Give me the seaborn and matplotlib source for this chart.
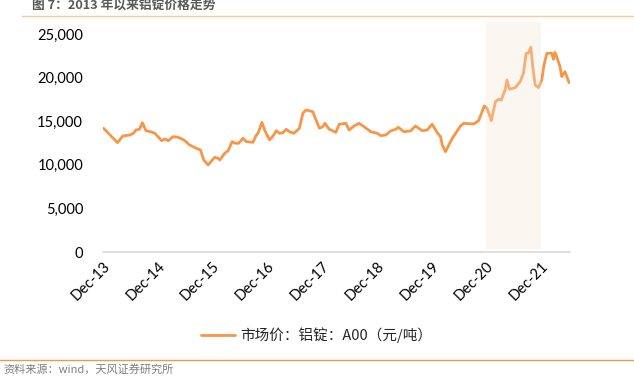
import matplotlib
matplotlib.use("Agg")
import matplotlib.pyplot as plt
import matplotlib.ticker as mticker
from matplotlib.lines import Line2D
import seaborn as sns
import pandas as pd

# ---------------- data ----------------
dates = [
    "2013-12-05", "2014-03-08", "2014-04-12", "2014-05-30", "2014-06-22", "2014-07-09",
    "2014-08-01", "2014-08-21", "2014-09-14", "2014-10-22", "2014-11-13", "2014-12-27",
    "2015-01-19", "2015-02-10", "2015-03-14", "2015-04-17", "2015-05-24", "2015-07-02",
    "2015-08-16", "2015-09-12", "2015-10-04", "2015-11-02", "2015-12-16", "2016-01-08",
    "2016-01-19", "2016-02-21", "2016-03-15", "2016-04-10", "2016-05-02", "2016-05-24",
    "2016-06-22", "2016-07-14", "2016-08-27", "2016-09-19", "2016-09-30", "2016-10-26",
    "2016-11-13", "2016-12-16", "2017-01-08", "2017-01-30", "2017-02-21", "2017-03-15",
    "2017-04-06", "2017-04-28", "2017-05-27", "2017-07-03", "2017-07-26", "2017-08-16",
    "2017-09-30", "2017-10-22", "2017-11-13", "2017-12-05", "2017-12-20", "2018-01-18",
    "2018-01-30", "2018-03-03", "2018-03-25", "2018-05-09", "2018-05-30", "2018-07-03",
    "2018-08-05", "2018-09-07", "2018-10-22", "2018-12-05", "2018-12-27", "2019-01-30",
    "2019-03-03", "2019-04-06", "2019-04-24", "2019-05-30", "2019-07-14", "2019-08-16",
    "2019-09-30", "2019-11-02", "2019-12-05", "2020-01-08", "2020-01-30", "2020-02-10",
    "2020-03-03", "2020-04-17", "2020-06-11", "2020-07-03", "2020-09-07", "2020-10-10",
    "2020-11-17", "2020-12-05", "2021-01-03", "2021-01-30", "2021-02-21", "2021-03-10",
    "2021-04-06", "2021-04-17", "2021-05-04", "2021-06-11", "2021-07-14", "2021-08-05",
    "2021-08-23", "2021-09-07", "2021-09-23", "2021-10-06", "2021-10-22", "2021-11-13",
    "2021-12-05", "2021-12-20", "2022-01-08", "2022-02-10", "2022-02-21", "2022-03-03",
    "2022-03-18", "2022-04-06", "2022-04-17", "2022-05-09", "2022-06-05",
]
prices = [
    14190, 12540, 13300, 13420, 13610, 14000,
    14070, 14830, 13910, 13760, 13610, 12770,
    12960, 12770, 13230, 13150, 12850, 12270,
    11890, 11700, 10550, 9980, 10860, 10750,
    10550, 11320, 11620, 12650, 12470, 12470,
    13040, 12650, 12580, 13420, 13610, 14870,
    13990, 12850, 13300, 13910, 13610, 13680,
    14070, 13800, 13610, 14190, 15910, 16290,
    16090, 15140, 14190, 14370, 14760, 14070,
    13990, 13720, 14650, 14760, 13990, 14450,
    14760, 14370, 13800, 13610, 13340, 13420,
    13880, 14070, 14300, 13800, 13880, 14450,
    13910, 13990, 14650, 13680, 13230, 12300,
    11500, 13040, 14450, 14760, 14680, 15060,
    16750, 16480, 15060, 17240, 17510, 17430,
    18660, 19730, 18660, 18850, 19530, 20500,
    22790, 22790, 23480, 21250, 19150, 18850,
    19730, 21450, 22790, 22790, 22100, 22900,
    22220, 21250, 20110, 20680, 19420,
]
tick_dates = ["2013-12-01", "2014-12-01", "2015-12-01", "2016-12-01", "2017-12-01",
              "2018-12-01", "2019-12-01", "2020-12-01", "2021-12-01"]
tick_labels = ["Dec-13", "Dec-14", "Dec-15", "Dec-16", "Dec-17",
               "Dec-18", "Dec-19", "Dec-20", "Dec-21"]
y_ticks = [0, 5000, 10000, 15000, 20000, 25000]
shade_start, shade_end = "2020-12-01", "2021-12-01"

title = "图 7：2013 年以来铝锭价格走势"
series_name = "市场价：铝锭：A00（元/吨）"
source = "资料来源：wind，天风证券研究所"

# ---------------- style ----------------
sns.set_theme(style="white")
plt.rcParams["font.family"] = ["Lato", "Noto Sans CJK SC", "DejaVu Sans"]
cjk = ["Noto Sans CJK SC", "DejaVu Sans"]
ORANGE = "#F79646"

W, H = 634, 387
fig = plt.figure(figsize=(W / 100, H / 100), dpi=100)
left_px, right_px, top_px, bot_px = 102.5, 569.5, 34, 252
ax = fig.add_axes([left_px / W, 1 - bot_px / H, (right_px - left_px) / W, (bot_px - top_px) / H])

df = pd.DataFrame({"date": pd.to_datetime(dates), "price": prices})
sns.lineplot(data=df, x="date", y="price", ax=ax, color=ORANGE, linewidth=2.0, zorder=3)

ax.axvspan(pd.to_datetime(shade_start), pd.to_datetime(shade_end), ymin=0.014, ymax=1.055,
           facecolor="#F6E3D6", alpha=0.32, edgecolor="none", zorder=4, clip_on=False)

ax.set_xlim(pd.to_datetime("2013-11-28"), pd.to_datetime("2022-06-08"))
ax.set_ylim(0, 25000)
ax.set_yticks(y_ticks)
ax.yaxis.set_major_formatter(mticker.FuncFormatter(lambda v, p: f"{v:,.0f}"))
ax.set_xticks(pd.to_datetime(tick_dates))
ax.set_xticklabels(tick_labels, rotation=45, ha="right", rotation_mode="anchor")
ax.tick_params(axis="both", length=0, labelsize=10.5, colors="black")
ax.tick_params(axis="y", pad=14)
ax.tick_params(axis="x", pad=5)
ax.set_xlabel("")
ax.set_ylabel("")
for s in ["top", "right", "left"]:
    ax.spines[s].set_visible(False)
ax.spines["bottom"].set_color("#D9D9D9")
ax.spines["bottom"].set_linewidth(1.2)
ax.grid(False)

handle = Line2D([], [], color=ORANGE, linewidth=2.0)
leg = ax.legend([handle], [series_name], loc="center", bbox_to_anchor=(0.5, 1 - 335 / H),
                bbox_transform=fig.transFigure, frameon=False, handlelength=2.3,
                handletextpad=0.4, prop={"family": cjk, "size": 10.5})

# title, decorative lines, source
fig.text(32 / W, 1 - 5.5 / H, title, ha="left", va="center", fontsize=9.2,
         fontweight="bold", color="#595959", family=cjk)
fig.add_artist(Line2D([22 / W, 1], [1 - 16 / H, 1 - 16 / H], transform=fig.transFigure,
                      color="#F9C89B", linewidth=1.0))
fig.add_artist(Line2D([0, 1], [1 - 360 / H, 1 - 360 / H], transform=fig.transFigure,
                      color=ORANGE, linewidth=1.0))
fig.text(3 / W, 1 - 369.5 / H, source, ha="left", va="center", fontsize=8,
         color="#7F7F7F", family=cjk)

fig.savefig("out.png", dpi=100)
